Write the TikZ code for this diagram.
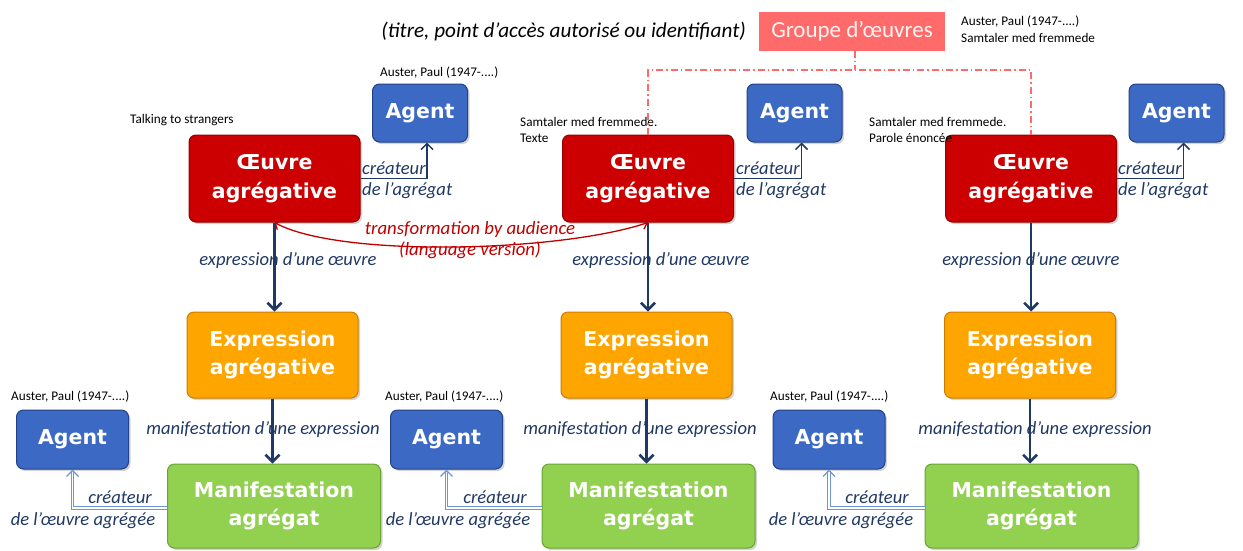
\documentclass[tikz,border=0pt]{standalone}
\usepackage{fontspec}
\setmainfont{Carlito}
\newfontfamily\boxfont{DejaVu Sans}
\usetikzlibrary{arrows.meta,shadows}
\definecolor{oeuvrecol}{RGB}{204,0,0}
\definecolor{oeuvreedge}{RGB}{150,0,0}
\definecolor{agentcol}{RGB}{60,105,195}
\definecolor{agentedge}{RGB}{35,65,135}
\definecolor{exprcol}{RGB}{255,165,0}
\definecolor{expredge}{RGB}{205,125,0}
\definecolor{maniccol}{RGB}{146,208,80}
\definecolor{manicedge}{RGB}{105,165,50}
\definecolor{navy}{RGB}{31,56,100}
\definecolor{linkblue}{RGB}{110,150,215}
\definecolor{salmon}{RGB}{255,107,107}
\definecolor{transred}{RGB}{192,0,0}
\tikzset{
  box/.style={rounded corners=7pt, text=white, align=center, inner sep=0pt, line width=1pt,
    font=\boxfont\bfseries\fontsize{20.5}{28.5}\selectfont,
    drop shadow={shadow xshift=2pt, shadow yshift=-2pt, opacity=0.35}},
  oeuvrebox/.style={box, fill=oeuvrecol, draw=oeuvreedge, minimum width=171pt, minimum height=87pt},
  agentbox/.style={box, fill=agentcol, draw=agentedge, minimum width=95pt, minimum height=58pt},
  agentboxb/.style={box, fill=agentcol, draw=agentedge, minimum width=112pt, minimum height=59pt},
  exprbox/.style={box, fill=exprcol, draw=expredge, minimum width=171pt, minimum height=86pt},
  manibox/.style={box, fill=maniccol, draw=manicedge, minimum width=213pt, minimum height=84pt},
  small/.style={font=\fontsize{13.2}{16.5}\selectfont, text=black, inner sep=0pt, align=left},
  rel/.style={font=\itshape\fontsize{18.6}{21}\selectfont, text=navy, inner sep=0pt},
  mainarrow/.style={draw=navy, line width=2.5pt, -{Straight Barb[length=7pt,width=14pt,line width=2.5pt]}},
  creaarrow/.style={draw=navy, line width=1.5pt, -{Straight Barb[length=6pt,width=12pt,line width=1.5pt]}},
  creaarrowb/.style={draw=linkblue, double=white, double distance=1.5pt, line width=1pt, -{Straight Barb[length=6pt,width=12pt,line width=1.4pt]}},
  groupline/.style={draw=salmon, line width=1.6pt, dash pattern=on 7pt off 3pt on 1.5pt off 3pt},
}
\begin{document}
\begin{tikzpicture}[x=1pt,y=-1pt]
\useasboundingbox (0,0) rectangle (1243,550);

% group of works
\node[fill=salmon, minimum width=186pt, minimum height=39pt, inner sep=0pt,
  text=white!92!salmon, font=\fontsize{23}{27}\selectfont] (grp) at (852,31) {Groupe d’œuvres};
\node[font=\itshape\fontsize{21.2}{24}\selectfont, anchor=east, inner sep=0pt] (grpnote) at (746,31) {(titre, point d’accès autorisé ou identifiant)};
\node[small, anchor=west] (grpl) at (961,29) {Auster, Paul (1947-....)\\Samtaler med fremmede};

% column 1
\node[oeuvrebox] (oe1) at (274.5,178.5) {Œuvre\\agrégative};
\node[agentbox] (ag1) at (420,113) {Agent};
\node[exprbox] (ex1) at (272.5,355) {Expression\\agrégative};
\node[manibox] (ma1) at (274,506) {Manifestation\\agrégat};
\node[agentboxb] (agb1) at (72.5,439.5) {Agent};
\node[small, anchor=west] (l1a) at (380,73) {Auster, Paul (1947-....)};
\node[small, anchor=west] (l1b) at (130,120) {Talking to strangers};
\node[small, anchor=west] (l1c) at (11,397) {Auster, Paul (1947-....)};

% column 2
\node[oeuvrebox] (oe2) at (648,178.5) {Œuvre\\agrégative};
\node[agentbox] (ag2) at (794.5,113) {Agent};
\node[exprbox] (ex2) at (646.5,355) {Expression\\agrégative};
\node[manibox] (ma2) at (648.5,506) {Manifestation\\agrégat};
\node[agentboxb] (agb2) at (446.5,439.5) {Agent};
\node[small, anchor=west] (l2b) at (520,130) {Samtaler med fremmede.\\Texte};
\node[small, anchor=west] (l2c) at (385,397) {Auster, Paul (1947-....)};

% column 3
\node[oeuvrebox] (oe3) at (1031,178.5) {Œuvre\\agrégative};
\node[agentbox] (ag3) at (1176.5,113) {Agent};
\node[exprbox] (ex3) at (1030,355) {Expression\\agrégative};
\node[manibox] (ma3) at (1031.5,506) {Manifestation\\agrégat};
\node[agentboxb] (agb3) at (829,439.5) {Agent};
\node[small, anchor=west] (l3b) at (869,130) {Samtaler med fremmede.\\Parole énoncée};
\node[small, anchor=west] (l3c) at (770,397) {Auster, Paul (1947-....)};

% group dash-dot links
\coordinate (gj) at (855,70);
\draw[groupline] (grp.south -| gj) -- (gj);
\draw[groupline] (oe2.north) -- (oe2.north |- gj) -- (oe3.north |- gj) -- (oe3.north);

% relation labels
\foreach \i/\xe/\xm in {1/288/263, 2/661/640, 3/1031/1035}{
  \node[rel] (re\i) at (\xe,261) {expression d’une œuvre};
  \node[rel] (rm\i) at (\xm,430) {manifestation d’une expression};
}
\node[rel, anchor=west] (ca1) at (362,168) {créateur};
\node[rel, anchor=west] (cb1) at (362,191) {de l’agrégat};
\node[rel, anchor=west] (ca2) at (736,168) {créateur};
\node[rel, anchor=west] (cb2) at (736,191) {de l’agrégat};
\node[rel, anchor=west] (ca3) at (1118,168) {créateur};
\node[rel, anchor=west] (cb3) at (1118,191) {de l’agrégat};

\node[rel] (cm1) at (120,497) {créateur};
\node[rel] (dm1) at (83,521) {de l’œuvre agrégée};
\node[rel] (cm2) at (495,497) {créateur};
\node[rel] (dm2) at (458,521) {de l’œuvre agrégée};
\node[rel] (cm3) at (877,497) {créateur};
\node[rel] (dm3) at (841,521) {de l’œuvre agrégée};

% main arrows
\foreach \i in {1,2,3}{
  \draw[mainarrow] (oe\i.south) -- (ex\i.north -| oe\i.south);
  \draw[mainarrow] (ex\i.south) -- (ma\i.north -| ex\i.south);
  \draw[creaarrow] (oe\i.east) -| ([xshift=7pt]ag\i.south);
  \draw[creaarrowb] ([yshift=-2pt]ma\i.west) -| (agb\i.south);
}

% transformation
\draw[transred, line width=1.3pt, {Straight Barb[length=5pt,width=10pt]}-{Straight Barb[length=5pt,width=10pt]}]
  (oe1.south) .. controls (340,258) and (560,252) .. (oe2.south);
\node[font=\itshape\fontsize{18.8}{21}\selectfont, text=transred, align=center, inner sep=0pt] (tr) at (470,240) {transformation by audience\\(language version)};
\end{tikzpicture}
\end{document}
